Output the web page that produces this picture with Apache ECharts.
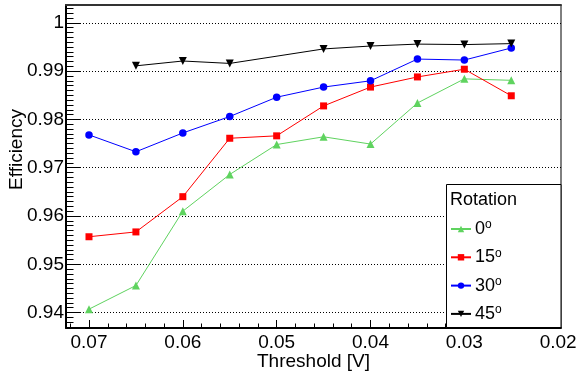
<!DOCTYPE html>
<html>
<head>
<meta charset="utf-8">
<script src="https://cdn.jsdelivr.net/npm/echarts@6/dist/echarts.min.js"></script>
<style>
  html, body { margin: 0; padding: 0; background: #fff; }
  #chart { width: 581px; height: 371px; }
</style>
</head>
<body>
<div id="chart"></div>
<script>
// Discriminator threshold settings (V)
const thresholds = [0.07, 0.065, 0.06, 0.055, 0.05, 0.045, 0.04, 0.035, 0.03, 0.025];

// Efficiency per rotation angle (null = not measured)
const rot0  = [0.9407, 0.9456, 0.9610, 0.9686, 0.9748, 0.9764, 0.9749, 0.9834, 0.9884, 0.9881];
const rot15 = [0.9557, 0.9567, 0.9640, 0.9761, 0.9766, 0.9828, 0.9867, 0.9888, 0.9904, 0.9849];
const rot30 = [0.9768, 0.9733, 0.9772, 0.9806, 0.9846, 0.9867, 0.9880, 0.9925, 0.9923, 0.9948];
const rot45 = [null,   0.9911, 0.9921, 0.9916, null,   0.9946, 0.9952, 0.9956, 0.9955, 0.9957];

const rotationNames = ['0°', '15°', '30°', '45°'];

// Axis ticks and labels
const xMajorTicks = [0.07, 0.06, 0.05, 0.04, 0.03, 0.02];
const yMajorTicks = [0.94, 0.95, 0.96, 0.97, 0.98, 0.99, 1.0];

const xRange = [0.0197, 0.07245];
const yRange = [0.9368, 1.0037];

// Minor tick positions: 5 divisions on x, 10 on y
function minorTicks(lo, hi, step, majors) {
  const out = [];
  const n0 = Math.ceil(lo / step - 1e-9), n1 = Math.floor(hi / step + 1e-9);
  for (let n = n0; n <= n1; n++) {
    const v = +(n * step).toFixed(6);
    if (!majors.some(m => Math.abs(m - v) < 1e-9)) out.push(v);
  }
  return out;
}
const xMinorTicks = minorTicks(xRange[0], xRange[1], 0.002, xMajorTicks);
const yMinorTicks = minorTicks(yRange[0], yRange[1], 0.001, yMajorTicks);

function pairs(values) {
  const out = [];
  values.forEach((v, i) => { if (v !== null) out.push([thresholds[i], v]); });
  return out;
}

const FONT = 'Liberation Sans, Arial, Helvetica, sans-serif';

const chart = echarts.init(document.getElementById('chart'), null, { renderer: 'canvas' });

const styles = [
  { color: '#5fd35f', symbol: 'triangle', size: 8, rotate: 0 },
  { color: '#ff0000', symbol: 'rect', size: 7, rotate: 0 },
  { color: '#0000ff', symbol: 'circle', size: 7.5, rotate: 0 },
  { color: '#000000', symbol: 'triangle', size: 8, rotate: 180 }
];
const allData = [rot0, rot15, rot30, rot45];

const series = allData.map((vals, k) => ({
  name: rotationNames[k],
  type: 'line',
  xAxisIndex: 0,
  yAxisIndex: 0,
  data: pairs(vals),
  symbol: styles[k].symbol,
  symbolSize: styles[k].size,
  symbolRotate: styles[k].rotate,
  showAllSymbol: true,
  lineStyle: { color: styles[k].color, width: 1 },
  itemStyle: { color: styles[k].color },
  animation: false,
  z: 3
}));

// Dotted horizontal grid at the major y ticks
series[0].markLine = {
  silent: true,
  symbol: ['none', 'none'],
  label: { show: false },
  lineStyle: { color: '#000', width: 1, type: [1, 2] },
  data: yMajorTicks.map(v => ({ yAxis: v })),
  animation: false,
  z: 1
};

const option = {
  backgroundColor: '#fff',
  animation: false,
  grid: {
    left: 66, right: 20, top: 5, bottom: 43,
    containLabel: false, outerBoundsMode: 'none',
    show: true, borderColor: '#000', borderWidth: 1, backgroundColor: 'transparent'
  },
  xAxis: [
    {
      type: 'value', min: xRange[0], max: xRange[1], inverse: true, position: 'bottom',
      name: 'Threshold [V]', nameLocation: 'middle', nameGap: 24, nameMoveOverlap: false,
      nameTextStyle: { fontFamily: FONT, fontSize: 19, color: '#000' },
      axisLine: { show: true, lineStyle: { color: '#000', width: 2 } },
      axisTick: { show: true, inside: true, length: 8, customValues: xMajorTicks, lineStyle: { color: '#000', width: 1 } },
      axisLabel: {
        show: true, customValues: xMajorTicks, margin: 5,
        fontFamily: FONT, fontSize: 19, color: '#000',
        formatter: v => v.toFixed(2)
      },
      splitLine: { show: false }
    },
    {
      type: 'value', min: xRange[0], max: xRange[1], inverse: true, position: 'bottom',
      axisLine: { show: false },
      axisTick: { show: true, inside: true, length: 4.5, customValues: xMinorTicks, lineStyle: { color: '#000', width: 1 } },
      axisLabel: { show: false },
      splitLine: { show: false }
    },
    {
      type: 'value', min: xRange[0], max: xRange[1], inverse: true, position: 'top',
      axisLine: { show: true, lineStyle: { color: '#333', width: 2 } },
      axisTick: { show: false },
      axisLabel: { show: false },
      splitLine: { show: false }
    }
  ],
  yAxis: [
    {
      type: 'value', min: yRange[0], max: yRange[1], position: 'left',
      name: 'Efficiency', nameLocation: 'middle', nameGap: 40, nameMoveOverlap: false,
      nameTextStyle: { fontFamily: FONT, fontSize: 19, color: '#000', padding: [0, 0, 0, 34] },
      axisLine: { show: true, lineStyle: { color: '#000', width: 2 } },
      axisTick: { show: true, inside: true, length: 15, customValues: yMajorTicks, lineStyle: { color: '#000', width: 1 } },
      axisLabel: {
        show: true, customValues: yMajorTicks, margin: 2,
        fontFamily: FONT, fontSize: 19, color: '#000',
        formatter: v => (Math.abs(v - 1) < 1e-9 ? '1' : v.toFixed(2))
      },
      splitLine: { show: false }
    },
    {
      type: 'value', min: yRange[0], max: yRange[1], position: 'left',
      axisLine: { show: false },
      axisTick: { show: true, inside: true, length: 7.5, customValues: yMinorTicks, lineStyle: { color: '#000', width: 1 } },
      axisLabel: { show: false },
      splitLine: { show: false }
    }
  ],
  graphic: [
    {
      type: 'rect', z: 50,
      shape: { x: 446.5, y: 184.5, width: 114.5, height: 143 },
      style: { fill: '#fff', stroke: '#000', lineWidth: 1 }
    }
  ],
  title: {
    text: 'Rotation', left: 450, top: 191, padding: 0, z: 60,
    textStyle: { fontFamily: FONT, fontSize: 18, fontWeight: 'normal', color: '#000' }
  },
  legend: {
    orient: 'vertical', left: 450, top: 219, padding: 0, z: 60,
    itemWidth: 20, itemHeight: 8, itemGap: 9.3,
    data: rotationNames,
    formatter: name => '{n|' + name.replace('°', '') + '}{s|o}',
    textStyle: {
      fontFamily: FONT, fontSize: 18, color: '#000', padding: [0, 0, 0, -1],
      rich: {
        n: { fontFamily: FONT, fontSize: 18, lineHeight: 20, color: '#000' },
        s: { fontFamily: FONT, fontSize: 12, lineHeight: 12, color: '#000', verticalAlign: 'top' }
      }
    }
  },
  series: series
};

chart.setOption(option);
</script>
</body>
</html>
